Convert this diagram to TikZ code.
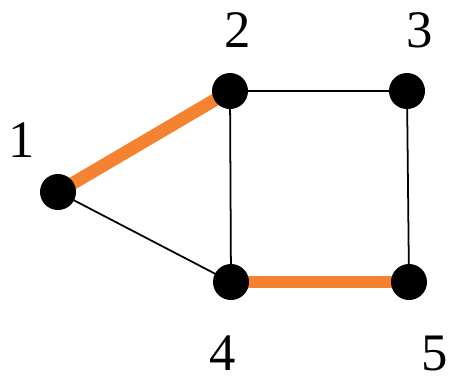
\documentclass[tikz,border=0pt]{standalone}
\usepackage{fontspec}
\setmainfont{Liberation Serif}
\usetikzlibrary{positioning}

\definecolor{pathorange}{RGB}{245,130,48}

\begin{document}
\begin{tikzpicture}[
      x=0.03cm, y=-0.03cm,
      vtx/.style={circle, fill=black, inner sep=0pt, minimum size=1.08cm},
      lbl/.style={font=\fontsize{45}{45}\selectfont, inner sep=0pt},
      edge/.style={line width=1.5pt, black},
      sel/.style={line width=11pt, pathorange}
    ]
    \useasboundingbox (0,0) rectangle (452,382);

    \coordinate (c1) at (58,192);
    \coordinate (c2) at (230,91);
    \coordinate (c3) at (407,91);
    \coordinate (c4) at (231,282);
    \coordinate (c5) at (409,282);

    \draw[edge] (c1) -- (c4);
    \draw[edge] (c2) -- (c3);
    \draw[edge] (c2) -- (c4);
    \draw[edge] (c3) -- (c5);
    \draw[sel] (c1) -- (c2);
    \draw[sel] (c4) -- (c5);

    \node[vtx] (v1) at (c1) {};
    \node[vtx] (v2) at (c2) {};
    \node[vtx] (v3) at (c3) {};
    \node[vtx] (v4) at (c4) {};
    \node[vtx] (v5) at (c5) {};

    \node[lbl] (l1) at (22,140) {1};
    \node[lbl] (l2) at (238,30) {2};
    \node[lbl] (l3) at (420,30) {3};
    \node[lbl] (l4) at (223,353) {4};
    \node[lbl] (l5) at (435,353) {5};
  \end{tikzpicture}
\end{document}
